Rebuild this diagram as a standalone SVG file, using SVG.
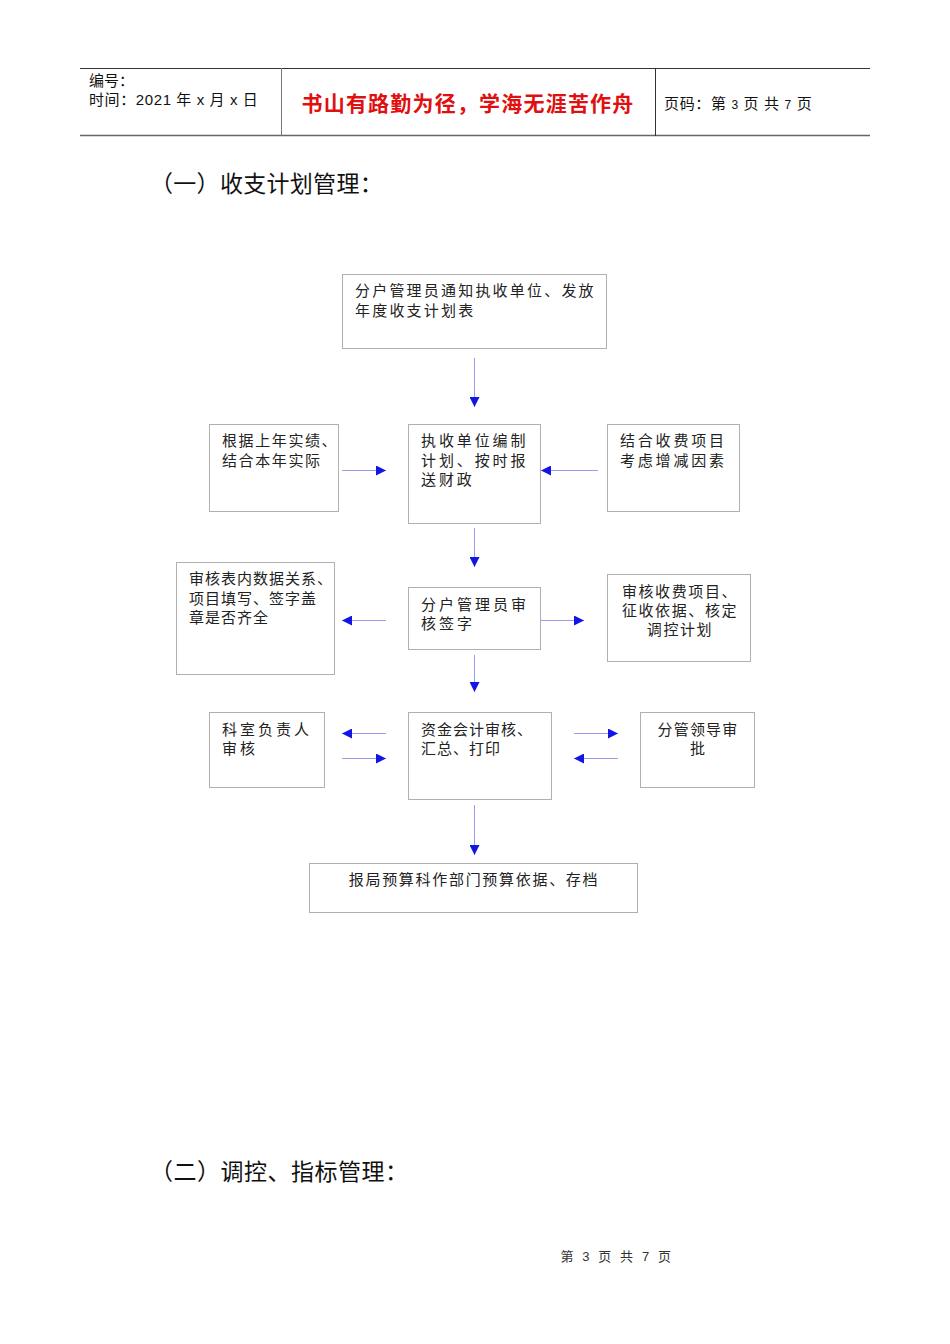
<svg xmlns="http://www.w3.org/2000/svg" width="950" height="1344" viewBox="0 0 950 1344">
<style>
.hd{font-family:"Liberation Sans","Noto Sans CJK SC",sans-serif;fill:#111;}
.box{fill:#fff;stroke:#b0b0b0;stroke-width:1;}
.t{font-family:"Liberation Serif","Noto Sans CJK SC",serif;font-size:15px;fill:#222;}
.ttl{font-family:"Noto Sans CJK SC",sans-serif;font-size:23px;fill:#111;}
.cn line{stroke:#9a9aee;stroke-width:1;marker-end:url(#ah);}
</style>
<defs>
<marker id="ah" viewBox="0 0 10 10" refX="10" refY="5" markerWidth="10" markerHeight="10" markerUnits="userSpaceOnUse" orient="auto">
<path d="M0,0 L10,5 L0,10 z" fill="#1414e6"/>
</marker>
</defs>
<rect width="950" height="1344" fill="#fff"/>
<g id="header">
<line x1="80" y1="68.5" x2="870" y2="68.5" stroke="#333" stroke-width="1"/>
<line x1="80" y1="135.5" x2="870" y2="135.5" stroke="#666" stroke-width="1.5"/>
<line x1="281.5" y1="68" x2="281.5" y2="136" stroke="#777" stroke-width="1"/>
<line x1="655.5" y1="68" x2="655.5" y2="136" stroke="#333" stroke-width="1"/>
<text class="hd" x="89" y="86" font-size="15">编号：</text>
<text class="hd" x="89" y="105" font-size="15" letter-spacing="0.6">时间：2021 年 x 月 x 日</text>
<text x="468" y="111" text-anchor="middle" font-family="'Liberation Sans','Noto Sans CJK SC',sans-serif" font-size="21" font-weight="bold" fill="#e01010" letter-spacing="1.2">书山有路勤为径，学海无涯苦作舟</text>
<text class="hd" x="664" y="109" font-size="15" letter-spacing="0.65">页码：第 <tspan font-size="12">3</tspan> 页  共 <tspan font-size="12">7</tspan> 页</text>
</g>
<text id="title1" class="ttl" x="150" y="192" letter-spacing="0.3">（一）收支计划管理：</text>
<g id="n1"><rect class="box" x="342.5" y="274.5" width="264" height="74"/>
<text class="t" x="355" y="296" letter-spacing="2.2">分户管理员通知执收单位、发放</text>
<text class="t" x="355" y="316" letter-spacing="2.2">年度收支计划表</text></g>
<g id="n2"><rect class="box" x="209.5" y="424.5" width="129" height="87"/>
<text class="t" x="222" y="446" letter-spacing="1.6">根据上年实绩、</text>
<text class="t" x="222" y="466" letter-spacing="1.6">结合本年实际</text></g>
<g id="n3"><rect class="box" x="408.5" y="424.5" width="132" height="99"/>
<text class="t" x="421" y="446" letter-spacing="2.9">执收单位编制</text>
<text class="t" x="421" y="466" letter-spacing="2.9">计划、按时报</text>
<text class="t" x="421" y="485" letter-spacing="2.9">送财政</text></g>
<g id="n4"><rect class="box" x="607.5" y="424.5" width="132" height="87"/>
<text class="t" x="620" y="446" letter-spacing="2.8">结合收费项目</text>
<text class="t" x="620" y="466" letter-spacing="2.8">考虑增减因素</text></g>
<g id="n5"><rect class="box" x="176.5" y="562.5" width="158" height="112"/>
<text class="t" x="189" y="584" letter-spacing="1">审核表内数据关系、</text>
<text class="t" x="189" y="604" letter-spacing="1">项目填写、签字盖</text>
<text class="t" x="189" y="623" letter-spacing="1">章是否齐全</text></g>
<g id="n6"><rect class="box" x="408.5" y="587.5" width="132" height="62"/>
<text class="t" x="421" y="610" letter-spacing="3">分户管理员审</text>
<text class="t" x="421" y="629" letter-spacing="3">核签字</text></g>
<g id="n7"><rect class="box" x="607.5" y="574.5" width="143" height="87"/>
<text class="t" x="680" y="597" text-anchor="middle" letter-spacing="1.6">审核收费项目、</text>
<text class="t" x="680" y="616" text-anchor="middle" letter-spacing="1.6">征收依据、核定</text>
<text class="t" x="680" y="635" text-anchor="middle" letter-spacing="1.6">调控计划</text></g>
<g id="n8"><rect class="box" x="209.5" y="712.5" width="115" height="75"/>
<text class="t" x="222" y="735" letter-spacing="3">科室负责人</text>
<text class="t" x="222" y="754" letter-spacing="3">审核</text></g>
<g id="n9"><rect class="box" x="408.5" y="712.5" width="143" height="87"/>
<text class="t" x="421" y="735" letter-spacing="1">资金会计审核、</text>
<text class="t" x="421" y="754" letter-spacing="1">汇总、打印</text></g>
<g id="n10"><rect class="box" x="640.5" y="712.5" width="114" height="75"/>
<text class="t" x="698" y="735" text-anchor="middle" letter-spacing="1.2">分管领导审</text>
<text class="t" x="698" y="754" text-anchor="middle" letter-spacing="1.2">批</text></g>
<g id="n11"><rect class="box" x="309.5" y="863.5" width="328" height="49"/>
<text class="t" x="474" y="885" text-anchor="middle" letter-spacing="1.7">报局预算科作部门预算依据、存档</text></g>
<g id="connectors" class="cn">
<line x1="474.5" y1="358" x2="474.5" y2="407"/>
<line x1="342" y1="470.5" x2="386" y2="470.5"/>
<line x1="598" y1="470.5" x2="541" y2="470.5"/>
<line x1="474.5" y1="528" x2="474.5" y2="567"/>
<line x1="386" y1="620.5" x2="342" y2="620.5"/>
<line x1="541" y1="620.5" x2="584" y2="620.5"/>
<line x1="474.5" y1="655" x2="474.5" y2="692"/>
<line x1="386" y1="733.5" x2="342" y2="733.5"/>
<line x1="342" y1="758.5" x2="386" y2="758.5"/>
<line x1="574" y1="733.5" x2="618" y2="733.5"/>
<line x1="618" y1="758.5" x2="574" y2="758.5"/>
<line x1="474.5" y1="805" x2="474.5" y2="855"/>
</g>
<text id="title2" class="ttl" x="150" y="1180" letter-spacing="0.5">（二）调控、指标管理：</text>
<text id="footer" x="617" y="1261" text-anchor="middle" font-family="'Liberation Sans','Noto Sans CJK SC',sans-serif" font-size="13" fill="#333" letter-spacing="2.6">第 3 页 共 7 页</text>
</svg>
